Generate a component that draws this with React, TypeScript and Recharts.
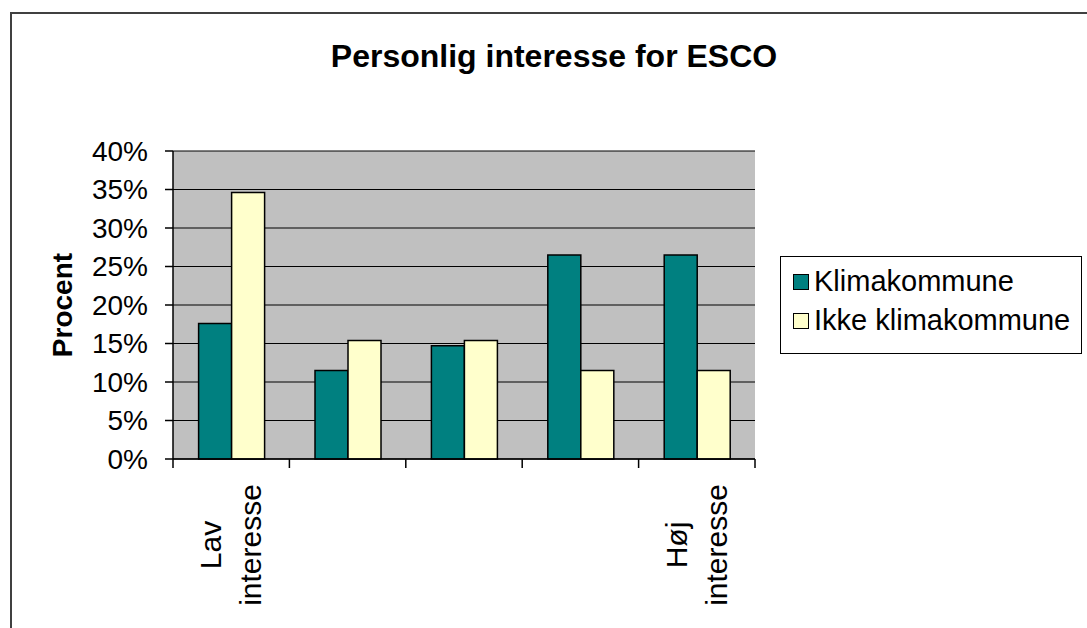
import { Bar, BarChart, CartesianGrid, Legend, XAxis, YAxis } from 'recharts';

const levels = ['1', '2', '3', '4', '5'];
const tickLabels = [['Lav', 'interesse'], [], [], [], ['Høj', 'interesse']];
const klima = [17.6, 11.5, 14.7, 26.5, 26.5];
const ikkeKlima = [34.6, 15.4, 15.4, 11.5, 11.5];
const yTicks = [0, 5, 10, 15, 20, 25, 30, 35, 40];
const seriesOrder = ['klima', 'ikke'];

const data = levels.map((level, i) => ({
  level,
  klima: klima[i],
  ikke: ikkeKlima[i],
}));

const FONT = '"Liberation Sans", Arial, sans-serif';

// tick marks sit on the category edges, like Excel does
function LevelTick({ x, y, index, payload }: any) {
  const lines = tickLabels[index] ?? [];
  const half = payload?.offset ?? 0;
  const last = index === levels.length - 1;
  return (
    <g>
      <line x1={x - half} x2={x - half} y1={y} y2={y + 9} stroke="#000" strokeWidth={1.5} />
      {last && <line x1={x + half} x2={x + half} y1={y} y2={y + 9} stroke="#000" strokeWidth={1.5} />}
      {lines.length > 0 && (
        <g transform={`translate(${x},${y + 86})`}>
          <text transform="rotate(-90)" textAnchor="middle" fontSize={30} fontFamily={FONT} fill="#000">
            {lines.map((line, i) => (
              <tspan key={i} x={0} y={-10 + i * 40}>
                {line}
              </tspan>
            ))}
          </text>
        </g>
      )}
    </g>
  );
}

function LegendBox({ payload }: any) {
  const items = [...(payload ?? [])].sort(
    (a: any, b: any) => seriesOrder.indexOf(a.dataKey) - seriesOrder.indexOf(b.dataKey),
  );
  return (
    <div
      style={{
        border: '1.5px solid #000',
        boxSizing: 'border-box',
        width: 302,
        height: 98,
        paddingTop: 5,
        paddingLeft: 12,
        fontFamily: FONT,
        fontSize: 29,
        color: '#000',
      }}
    >
      {items.map((entry: any) => (
        <div key={entry.value} style={{ display: 'flex', alignItems: 'center', height: 39 }}>
          <span
            style={{
              display: 'inline-block',
              width: 14,
              height: 14,
              background: entry.color,
              border: '1.5px solid #000',
              marginRight: 5,
            }}
          />
          <span>{entry.value}</span>
        </div>
      ))}
    </div>
  );
}

export default function App() {
  return (
    <div
      style={{
        position: 'absolute',
        left: 0,
        top: 0,
        width: 1087,
        height: 628,
        overflow: 'hidden',
        background: '#fff',
      }}
    >
      <div
        style={{
          position: 'absolute',
          left: 10,
          top: 12,
          width: 1200,
          height: 700,
          border: '2px solid #404040',
        }}
      />
      <div
        style={{
          position: 'absolute',
          left: 0,
          top: 40,
          width: 1108,
          textAlign: 'center',
          fontFamily: FONT,
          fontWeight: 'bold',
          fontSize: 32,
          lineHeight: '32px',
          color: '#000',
        }}
      >
        Personlig interesse for ESCO
      </div>
      <div style={{ position: 'absolute', left: 0, top: 0 }}>
        <BarChart
          width={1087}
          height={628}
          data={data}
          margin={{ top: 151, right: 30, left: 0, bottom: 0 }}
          barCategoryGap="22%"
          barGap={0}
        >
          <CartesianGrid fill="#C0C0C0" stroke="#000" vertical={false} />
          <XAxis
            dataKey="level"
            height={169}
            tickSize={0}
            tickMargin={0}
            axisLine={{ stroke: '#000', strokeWidth: 1.5 }}
            tickLine={false}
            interval={0}
            tick={<LevelTick />}
          />
          <YAxis
            width={173}
            domain={[0, 40]}
            ticks={yTicks}
            interval={0}
            tickFormatter={(v) => `${v}%`}
            tickSize={8}
            tickMargin={17}
            tick={{ fontSize: 28, fontFamily: FONT, fill: '#000' }}
            axisLine={{ stroke: '#000', strokeWidth: 1.5 }}
            tickLine={{ stroke: '#000', strokeWidth: 1.5 }}
            label={{
              value: 'Procent',
              angle: -90,
              position: 'insideLeft',
              offset: 62,
              style: { textAnchor: 'middle', fontSize: 28, fontWeight: 'bold', fontFamily: FONT, fill: '#000' },
            }}
          />
          <YAxis
            yAxisId="right"
            orientation="right"
            width={0}
            domain={[0, 40]}
            tick={false}
            tickLine={false}
            axisLine={{ stroke: '#808080', strokeWidth: 1.5 }}
          />
          <Legend
            layout="horizontal"
            verticalAlign="middle"
            align="right"
            content={<LegendBox />}
            wrapperStyle={{ position: 'absolute', left: 780, top: 256, width: 302, height: 98 }}
          />
          <Bar dataKey="klima" name="Klimakommune" fill="#008080" stroke="#000" strokeWidth={1.5} isAnimationActive={false} />
          <Bar dataKey="ikke" name="Ikke klimakommune" fill="#FFFFCC" stroke="#000" strokeWidth={1.5} isAnimationActive={false} />
        </BarChart>
      </div>
    </div>
  );
}
